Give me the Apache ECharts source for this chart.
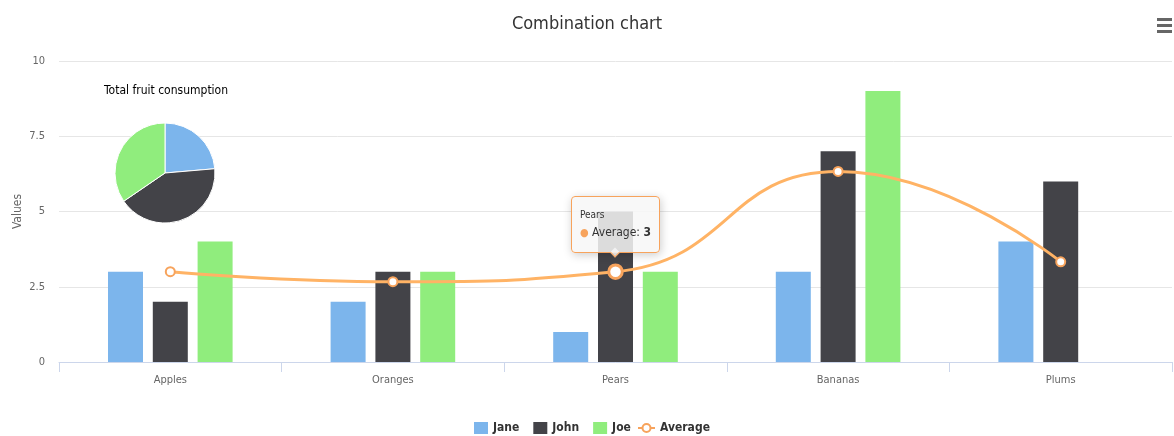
<!DOCTYPE html>
<html>
<head>
<meta charset="utf-8">
<title>Combination chart</title>
<script src="https://cdn.jsdelivr.net/npm/echarts@6/dist/echarts.min.js"></script>
<style>
  html, body { margin: 0; padding: 0; background: #fff; }
  #chart { width: 1174px; height: 436px; }
</style>
</head>
<body>
<div id="chart"></div>
<script>
// Fruit eaten per person, with the per-fruit average and per-person totals
const categories = ['Apples', 'Oranges', 'Pears', 'Bananas', 'Plums'];
const jane = [3, 2, 1, 3, 4];
const john = [2, 3, 5, 7, 6];
const joe = [4, 3, 3, 9, 0];
const average = [3, 2.67, 3, 6.33, 3.33];
const totals = [
  { name: 'Jane', value: 13 },
  { name: 'John', value: 23 },
  { name: 'Joe', value: 19 }
];
const yTicks = [0, 2.5, 5, 7.5, 10];

const COLORS = { Jane: '#7cb5ec', John: '#434348', Joe: '#90ed7d', Average: '#f7a35c' };
const FONT = '"Liberation Sans Narrow", "DejaVu Sans Condensed", "Liberation Sans", sans-serif';

const chart = echarts.init(document.getElementById('chart'), null, { renderer: 'canvas' });

function barSeries(name, data) {
  return {
    name: name,
    type: 'bar',
    data: data,
    barWidth: 35,
    barGap: '28%',
    itemStyle: { color: COLORS[name] },
    emphasis: { disabled: true },
    tooltip: { show: false }
  };
}

const legendText = { fontFamily: FONT, fontSize: 12, fontWeight: 'bold', color: '#333333' };

const option = {
  animation: false,
  textStyle: { fontFamily: FONT },
  title: [
    {
      text: 'Combination chart',
      left: 'center',
      top: 10,
      textStyle: { fontFamily: FONT, fontSize: 18, fontWeight: 'normal', color: '#333333' }
    },
    {
      text: 'Total fruit consumption',
      left: 104,
      top: 85,
      padding: 0,
      textStyle: { fontFamily: FONT, fontSize: 12, fontWeight: 'normal', color: '#000000' }
    }
  ],
  legend: [
    {
      left: 474,
      top: 422,
      padding: 0,
      itemWidth: 14,
      itemHeight: 12,
      itemGap: 14,
      icon: 'rect',
      data: ['Jane', 'John', 'Joe'],
      textStyle: legendText
    },
    {
      left: 637,
      top: 422,
      padding: 0,
      itemWidth: 17,
      itemHeight: 10,
      data: ['Average'],
      textStyle: legendText
    }
  ],
  grid: { left: 59, right: 2, top: 61, bottom: 74, containLabel: false, outerBoundsMode: 'none' },
  tooltip: {
    trigger: 'item',
    alwaysShowContent: true,
    position: 'top',
    backgroundColor: 'rgba(247,247,247,0.85)',
    borderColor: '#f7a35c',
    borderWidth: 1,
    padding: [10, 8, 10, 8],
    textStyle: { fontFamily: FONT, color: '#333333', fontSize: 11 },
    formatter: function (p) {
      return '<div style="font-size:10px;line-height:16px">' + p.name + '</div>' +
        '<div style="font-size:12px;line-height:18px"><span style="color:' + COLORS.Average +
        ';font-size:11px">\u25CF</span> ' + p.seriesName + ': <b>' + p.value + '</b></div>';
    }
  },
  xAxis: {
    type: 'category',
    data: categories,
    axisLine: { lineStyle: { color: '#ccd6eb' } },
    axisTick: { show: true, length: 10, lineStyle: { color: '#ccd6eb' } },
    axisLabel: { color: '#666666', fontSize: 11, margin: 13, fontFamily: FONT }
  },
  yAxis: {
    type: 'value',
    min: yTicks[0],
    max: yTicks[yTicks.length - 1],
    interval: yTicks[1] - yTicks[0],
    name: 'Values',
    nameLocation: 'middle',
    nameGap: 35,
    nameMoveOverlap: false,
    nameTextStyle: { color: '#666666', fontSize: 12, fontFamily: FONT },
    axisLine: { show: false },
    axisTick: { show: false },
    axisLabel: { color: '#666666', fontSize: 11, margin: 14, fontFamily: FONT },
    splitLine: { lineStyle: { color: '#e6e6e6' } }
  },
  series: [
    barSeries('Jane', jane),
    barSeries('John', john),
    barSeries('Joe', joe),
    {
      name: 'Average',
      type: 'line',
      data: average,
      smooth: 0.5,
      symbol: 'circle',
      symbolSize: 9,
      z: 5,
      lineStyle: { color: COLORS.Average, width: 3 },
      itemStyle: { color: '#ffffff', borderColor: COLORS.Average, borderWidth: 2 },
      emphasis: {
        scale: 1.5,
        focus: 'none',
        lineStyle: { width: 3 },
        itemStyle: { color: '#ffffff', borderColor: COLORS.Average, borderWidth: 3 }
      },
      tooltip: { show: true }
    },
    {
      name: 'Total consumption',
      type: 'pie',
      center: [165, 173],
      radius: 50,
      startAngle: 90,
      clockwise: true,
      data: totals.map(function (t) {
        return { name: t.name, value: t.value, itemStyle: { color: COLORS[t.name] } };
      }),
      label: { show: false },
      labelLine: { show: false },
      itemStyle: { borderColor: '#ffffff', borderWidth: 1 },
      emphasis: { disabled: true },
      tooltip: { show: false },
      z: 6
    }
  ],
  graphic: [
    { type: 'rect', shape: { x: 1157, y: 18, width: 15, height: 3 }, style: { fill: '#666666' } },
    { type: 'rect', shape: { x: 1157, y: 24, width: 15, height: 3 }, style: { fill: '#666666' } },
    { type: 'rect', shape: { x: 1157, y: 30, width: 15, height: 3 }, style: { fill: '#666666' } }
  ]
};

chart.setOption(option);

function hoverPears() {
  chart.dispatchAction({ type: 'highlight', seriesIndex: 3, dataIndex: 2 });
  chart.dispatchAction({ type: 'showTip', seriesIndex: 3, dataIndex: 2 });
}
hoverPears();
setTimeout(hoverPears, 50);
</script>
</body>
</html>
